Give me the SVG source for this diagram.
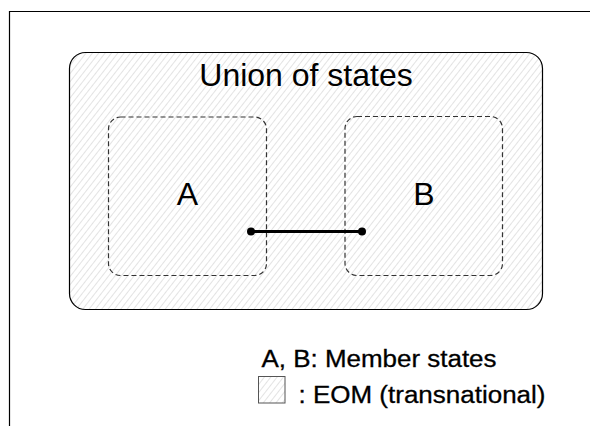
<svg xmlns="http://www.w3.org/2000/svg" width="590" height="426" viewBox="0 0 590 426">
<style>
text{font-family:"Liberation Sans",Arial,sans-serif;fill:#000}
.state{fill:none;stroke:#333;stroke-width:1.2;stroke-dasharray:5,3}
</style>
<defs>
<pattern id="hatch" patternUnits="userSpaceOnUse" width="5" height="5" patternTransform="rotate(38)">
<line x1="0" y1="0" x2="0" y2="5" stroke="#c8c8c8" stroke-width="1"/>
</pattern>
</defs>
<rect width="590" height="426" fill="#fff"/>
<path d="M9.5,426 V11.5 H590" fill="none" stroke="#000" stroke-width="1.2"/>
<g id="union">
<rect x="69.5" y="52.5" width="473" height="257" rx="16" fill="url(#hatch)" stroke="#000" stroke-width="1.2"/>
<text x="306" y="86" font-size="32" text-anchor="middle">Union of states</text>
</g>
<g id="A">
<rect class="state" x="108.5" y="117" width="158" height="158.5" rx="12"/>
<text x="187.3" y="205" font-size="32" text-anchor="middle">A</text>
</g>
<g id="B">
<rect class="state" x="345" y="116.5" width="157.5" height="159" rx="12"/>
<text x="424" y="205" font-size="32" text-anchor="middle">B</text>
</g>
<g id="connectors">
<line x1="251" y1="231.5" x2="362" y2="231.5" stroke="#000" stroke-width="3"/>
<circle cx="251" cy="231.5" r="4" fill="#000"/>
<circle cx="362" cy="231.5" r="4" fill="#000"/>
</g>
<g id="legend">
<text x="261.5" y="367" font-size="23" textLength="235" lengthAdjust="spacingAndGlyphs" stroke="#000" stroke-width="0.3">A, B: Member states</text>
<rect x="258.5" y="376.5" width="26.5" height="26.5" fill="url(#hatch)" stroke="#555" stroke-width="1"/>
<text x="298.5" y="403" font-size="23" textLength="247" lengthAdjust="spacingAndGlyphs" stroke="#000" stroke-width="0.3">: EOM (transnational)</text>
</g>
</svg>
